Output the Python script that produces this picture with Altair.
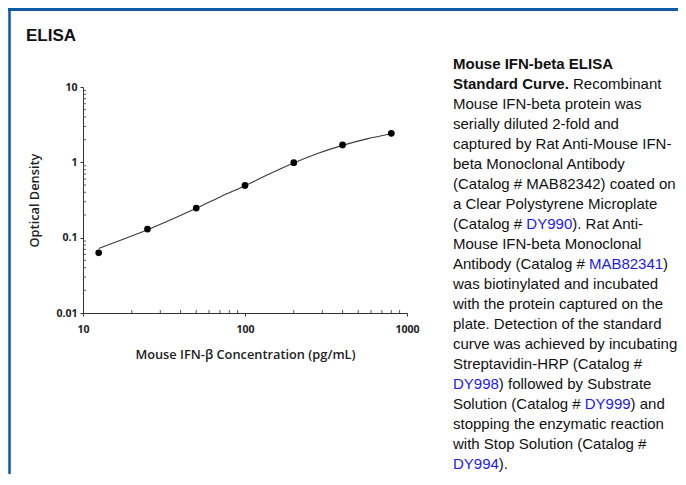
import altair as alt
import pandas as pd

# ---------------- data ----------------
conc = [12.5, 25, 50, 100, 200, 400, 800]
od = [0.063, 0.13, 0.247, 0.494, 0.99, 1.70, 2.43]

curve_x = [12.5, 17.7, 25, 35.4, 50, 70.7, 100, 141, 200, 283, 400, 566, 800]
curve_y = [0.072, 0.095, 0.127, 0.175, 0.245, 0.35, 0.49, 0.70, 0.98, 1.32, 1.68, 2.05, 2.40]

x_major = [10, 100, 1000]
y_major = [0.01, 0.1, 1, 10]
x_minor = [20, 30, 40, 50, 60, 70, 80, 90, 200, 300, 400, 500, 600, 700, 800, 900]
y_minor = [0.02, 0.03, 0.04, 0.05, 0.06, 0.07, 0.08, 0.09,
           0.2, 0.3, 0.4, 0.5, 0.6, 0.7, 0.8, 0.9,
           2, 3, 4, 5, 6, 7, 8, 9]

panel_title = "ELISA"
x_title = "Mouse IFN-\u03b2 Concentration (pg/mL)"
y_title = "Optical Density"

# caption: list of lines, each a list of (text, style); b=bold, l=link
caption = [
    [("Mouse IFN-beta ELISA", "b")],
    [("Standard Curve.", "b"), (" Recombinant", "")],
    [("Mouse IFN-beta protein was", "")],
    [("serially diluted 2-fold and", "")],
    [("captured by Rat Anti-Mouse IFN-", "")],
    [("beta Monoclonal Antibody", "")],
    [("(Catalog # MAB82342) coated on", "")],
    [("a Clear Polystyrene Microplate", "")],
    [("(Catalog # ", ""), ("DY990", "l"), ("). Rat Anti-", "")],
    [("Mouse IFN-beta Monoclonal", "")],
    [("Antibody (Catalog # ", ""), ("MAB82341", "l"), (")", "")],
    [("was biotinylated and incubated", "")],
    [("with the protein captured on the", "")],
    [("plate. Detection of the standard", "")],
    [("curve was achieved by incubating", "")],
    [("Streptavidin-HRP (Catalog #", "")],
    [("DY998", "l"), (") followed by Substrate", "")],
    [("Solution (Catalog # ", ""), ("DY999", "l"), (") and", "")],
    [("stopping the enzymatic reaction", "")],
    [("with Stop Solution (Catalog #", "")],
    [("DY994", "l"), (").", "")],
]

# ---------------- layout ----------------
W, H = 324, 226
PAD = {"left": 75, "top": 79, "right": 271, "bottom": 161}
CAP_X, CAP_Y, CAP_LH, CAP_FS = 370, -18, 20, 15
TEXT_FONT = "Liberation Sans"
AX_FONT = "Open Sans"
BLUE = "#0d5aa7"
LINK = "#1a1aee"

# Arial / Liberation Sans advance widths (per 1000 em)
REG = {' ': 278, '(': 333, ')': 333, '#': 556, '.': 278, '-': 333, ',': 278,
       'A': 667, 'B': 667, 'C': 722, 'D': 722, 'E': 667, 'F': 611, 'H': 722, 'I': 278,
       'L': 556, 'M': 833, 'N': 722, 'P': 667, 'R': 722, 'S': 667, 'Y': 667,
       'a': 556, 'b': 556, 'c': 500, 'd': 556, 'e': 556, 'f': 278, 'g': 556, 'h': 556,
       'i': 222, 'l': 222, 'm': 833, 'n': 556, 'o': 556, 'p': 556, 'r': 333, 's': 500,
       't': 278, 'u': 556, 'v': 500, 'w': 722, 'y': 500}
BOLD = {' ': 278, '.': 278, '-': 333, 'S': 667, 'C': 722, 'M': 833, 'I': 278, 'F': 611,
        'N': 722, 'E': 667, 'L': 611, 'A': 722, 'a': 556, 'b': 611, 'd': 611, 'e': 556,
        'n': 611, 'o': 611, 'r': 389, 's': 556, 't': 333, 'u': 611, 'v': 556}


def text_width(s, bold):
    table = BOLD if bold else REG
    return sum(table.get(ch, 556) for ch in s) * CAP_FS / 1000.0


rows = []
for i, line in enumerate(caption):
    x = CAP_X
    for txt, style in line:
        bold = style == "b"
        lead = len(txt) - len(txt.lstrip(" "))
        x += text_width(" " * lead, bold)
        body = txt.lstrip(" ")
        rows.append({"px": x, "py": CAP_Y + i * CAP_LH, "txt": body,
                     "col": LINK if style == "l" else "#111111",
                     "bold": bold})
        x += text_width(body, bold)
cap_df = pd.DataFrame(rows)

# ---------------- chart ----------------
xs = alt.Scale(type="log", domain=[10, 1000], nice=False)
ys = alt.Scale(type="log", domain=[0.01, 10], nice=False)

pts_df = pd.DataFrame({"c": conc, "od": od})
curve_df = pd.DataFrame({"c": curve_x, "od": curve_y})

axis_style = dict(format="~g", tickSize=3, labelFont=AX_FONT, labelFontWeight="bold",
                  labelFontSize=10.5, titleFont=AX_FONT, titleFontWeight=600,
                  titleFontSize=12.8, labelColor="#222", titleColor="#222",
                  domainColor="#333", tickColor="#333", grid=False, labelFlush=False)

line = alt.Chart(curve_df).mark_line(color="#3a3a3a", strokeWidth=1.1, interpolate="monotone").encode(
    x=alt.X("c:Q", scale=xs, axis=alt.Axis(values=x_major, title=x_title, labelPadding=8,
                                           titlePadding=14, **axis_style)),
    y=alt.Y("od:Q", scale=ys, axis=alt.Axis(values=y_major, title=y_title, labelPadding=3,
                                            titlePadding=14, **axis_style)),
)

points = alt.Chart(pts_df).mark_circle(color="black", opacity=1, size=45).encode(
    x=alt.X("c:Q", scale=xs), y=alt.Y("od:Q", scale=ys))

xminor = alt.Chart(pd.DataFrame({"v": x_minor})).mark_rule(color="#555", strokeWidth=1).encode(
    x=alt.X("v:Q", scale=xs), y=alt.value(H), y2=alt.value(H - 3))
yminor = alt.Chart(pd.DataFrame({"v": y_minor})).mark_rule(color="#555", strokeWidth=1).encode(
    y=alt.Y("v:Q", scale=ys), x=alt.value(0), x2=alt.value(3))

plot = alt.layer(line, points, xminor, yminor)

cap_reg = alt.Chart(cap_df[~cap_df["bold"]]).mark_text(
    align="left", baseline="alphabetic", font=TEXT_FONT, fontSize=CAP_FS).encode(
    x=alt.X("px:Q", scale=None, axis=None), y=alt.Y("py:Q", scale=None, axis=None),
    text="txt:N", color=alt.Color("col:N", scale=None))
cap_bold = alt.Chart(cap_df[cap_df["bold"]]).mark_text(
    align="left", baseline="alphabetic", font=TEXT_FONT, fontSize=CAP_FS, fontWeight="bold").encode(
    x=alt.X("px:Q", scale=None, axis=None), y=alt.Y("py:Q", scale=None, axis=None),
    text="txt:N", color=alt.Color("col:N", scale=None))

one = pd.DataFrame({"a": [0]})
head = alt.Chart(one).mark_text(align="left", baseline="alphabetic", font=TEXT_FONT,
                                fontSize=17, fontWeight="bold", color="#111").encode(
    x=alt.value(-57), y=alt.value(-46), text=alt.value(panel_title))
top_rule = alt.Chart(one).mark_rule(color=BLUE, strokeWidth=3).encode(
    x=alt.value(-75), x2=alt.value(W + PAD["right"]), y=alt.value(-77.5))
left_rule = alt.Chart(one).mark_rule(color=BLUE, strokeWidth=2.5).encode(
    x=alt.value(-73.5), y=alt.value(-79), y2=alt.value(H + PAD["bottom"]))

chart = alt.layer(plot, cap_reg, cap_bold, head, top_rule, left_rule).resolve_scale(
    x="independent", y="independent").properties(
    width=W, height=H, padding=PAD, autosize=alt.AutoSizeParams(type="none"),
    background="white").configure_view(stroke=None)

chart.save("out.html", embed_options={"renderer": "svg", "actions": False})
